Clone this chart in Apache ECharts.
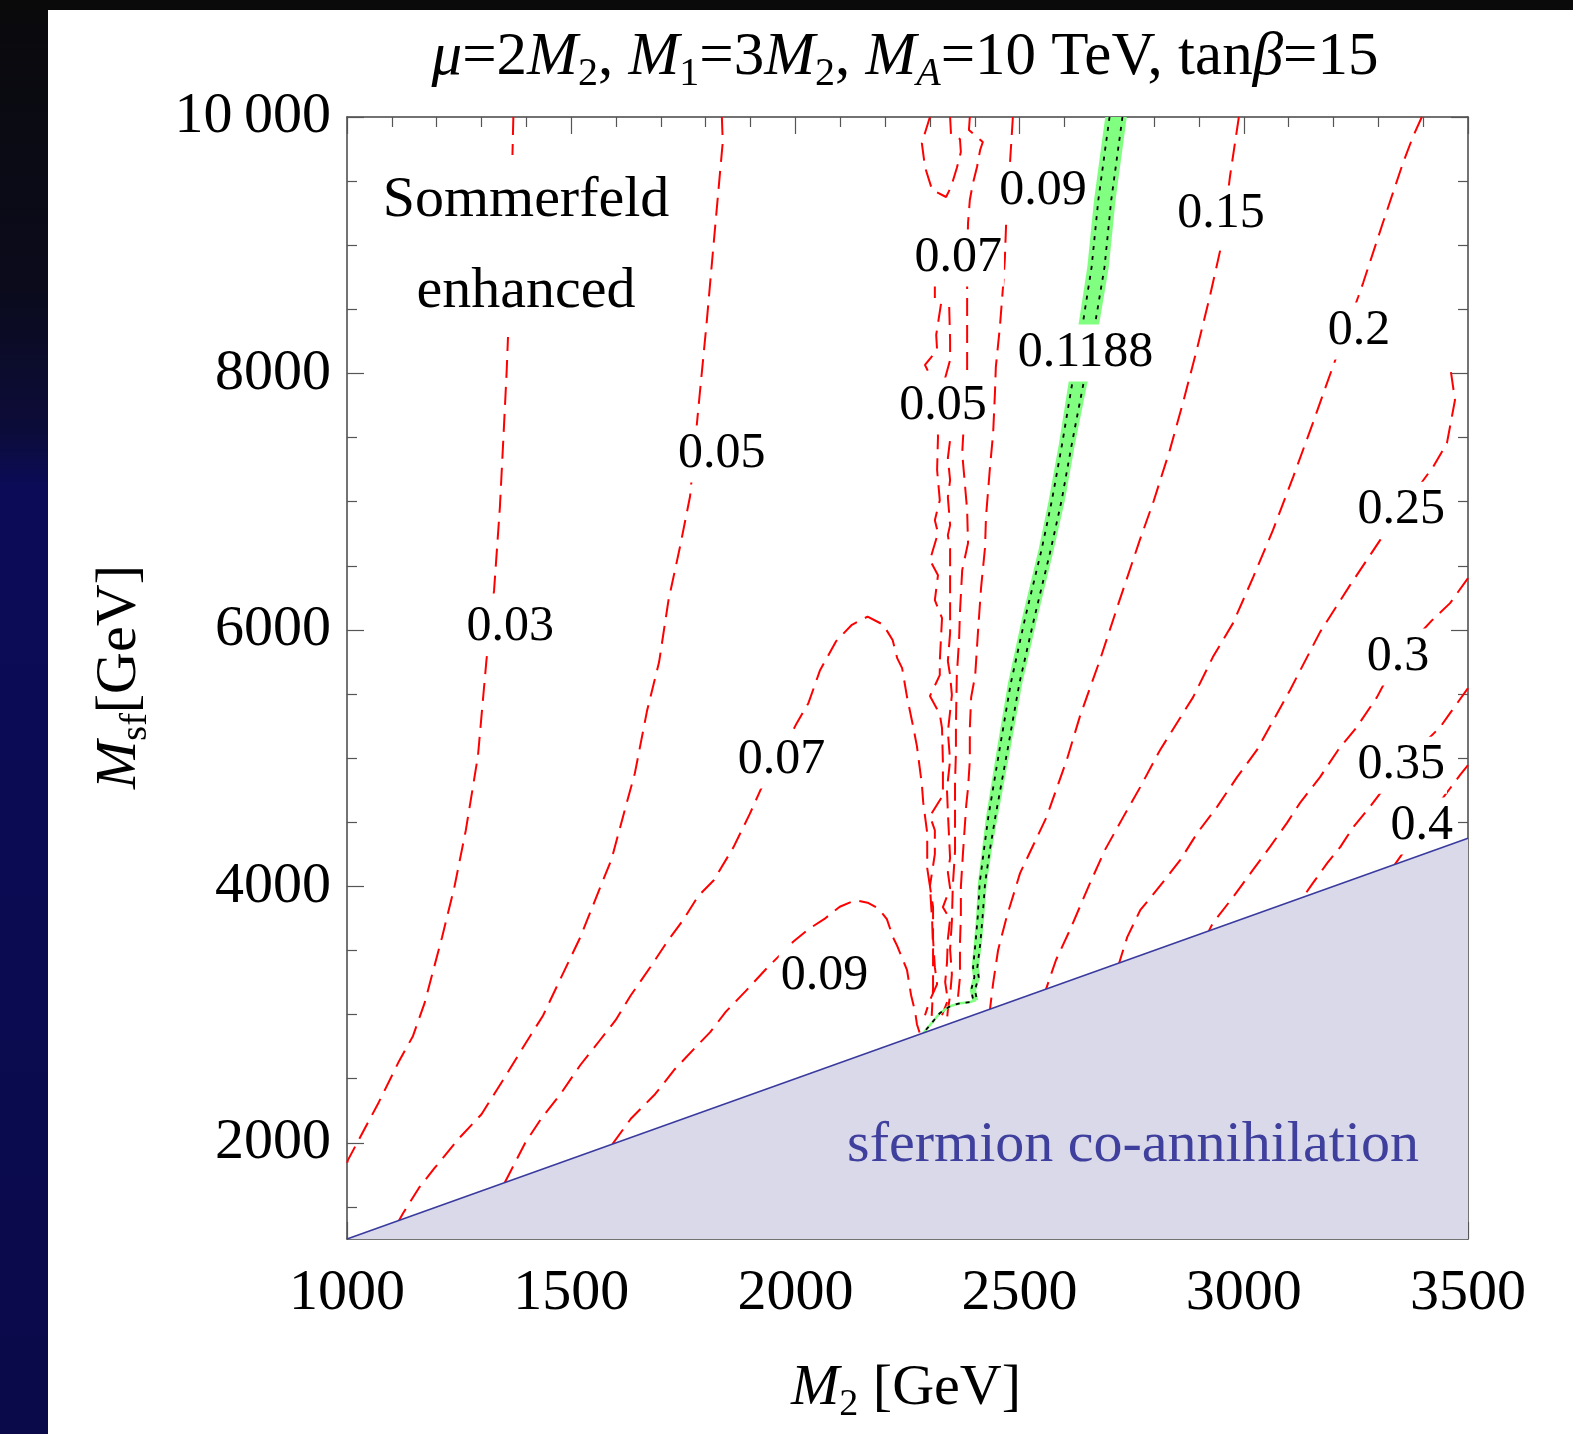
<!DOCTYPE html>
<html><head><meta charset="utf-8">
<script src="https://cdn.jsdelivr.net/npm/echarts@6/dist/echarts.min.js"></script>
<style>html,body{margin:0;padding:0;background:#fff}#c{width:1573px;height:1434px}</style>
</head><body><div id="c"></div>
<script>
// ---------- axis ticks ----------
const xMajorTicks = [1000, 1500, 2000, 2500, 3000, 3500];
const yMajorTicks = [2000, 4000, 6000, 8000, 10000];
const yMinorTicks = [1500, 2500, 3000, 3500, 4500, 5000, 5500, 6500, 7000, 7500, 8500, 9000, 9500];

// ---------- excluded region (sfermion co-annihilation) ----------
const boundary = [[1000, 1250], [3500, 4375]];

// ---------- Omega h^2 contours (red dashed) ----------
const c003 = [[1371,10000],[1360,8370],[1356,8011],[1349,7512],[1341,6958],[1328,6310],[1311,5764],[1292,5016],[1265,4438],[1239,3986],[1212,3604],[1173,3089],[1147,2832],[1116,2637],[1071,2317],[1002,1865],[1000,1840]];
const c005 = [[1836,10000],[1838,9805],[1816,8947],[1802,8393],[1783,7707],[1765,7040],[1743,6654],[1717,6232],[1696,5749],[1669,5367],[1642,4883],[1617,4563],[1590,4212],[1564,3986],[1520,3601],[1476,3279],[1437,2991],[1397,2769],[1352,2512],[1300,2223],[1248,2028],[1195,1802],[1160,1646],[1125,1451],[1116,1395]];
const c007Lobe = [[1352,1690],[1397,1997],[1433,2188],[1476,2379],[1520,2605],[1564,2800],[1599,2956],[1633,3151],[1678,3378],[1714,3568],[1748,3729],[1783,3924],[1818,4048],[1862,4306],[1898,4563],[1923,4758],[1963,5000],[2003,5273],[2029,5429],[2055,5686],[2091,5913],[2126,6040],[2161,6104],[2196,6040],[2217,5920],[2227,5780],[2238,5702],[2249,5476],[2262,5257],[2271,5094],[2282,4797],[2285,4657],[2294,4415],[2294,4142],[2300,4002],[2305,3729],[2307,3510],[2307,3206],[2304,2990]];
const c009Lobe = [[1592,1990],[1633,2188],[1687,2379],[1731,2574],[1774,2733],[1810,2863],[1845,3023],[1889,3183],[1932,3346],[1995,3568],[2029,3666],[2064,3744],[2099,3841],[2134,3892],[2161,3873],[2186,3825],[2204,3744],[2218,3601],[2227,3536],[2249,3346],[2258,3151],[2267,3023],[2271,2925],[2278,2848]];
const c005Top = [[2300,10000],[2282,9797],[2289,9610],[2305,9431],[2336,9376],[2347,9454],[2360,9602],[2369,9727],[2367,9828],[2347,9867],[2345,10000]];
const c005JagA = [[2311,8729],[2311,8588],[2325,8549],[2314,8300],[2316,8183],[2289,8066],[2300,7988],[2314,7910],[2318,7504],[2316,7247],[2322,7012],[2311,6856],[2318,6755],[2300,6544],[2318,6427],[2311,6232],[2327,6092],[2322,5757],[2322,5647],[2300,5484],[2322,5343],[2327,5234],[2329,4961],[2329,4711],[2300,4548],[2311,4438],[2311,4251],[2300,4002],[2307,3838],[2307,3729],[2307,3588],[2311,3370],[2316,3237],[2300,3112],[2289,2995]];
const c005JagB = [[2343,8518],[2345,8261],[2345,8105],[2334,7964],[2345,7481],[2340,7340],[2345,7169],[2340,7036],[2345,6817],[2340,6739],[2345,6630],[2345,6466],[2345,6287],[2345,6123],[2345,5975],[2340,5757],[2345,5647],[2349,5492],[2340,5203],[2345,4984],[2338,4758],[2340,4579],[2345,4220],[2340,4111],[2345,3986],[2329,3838],[2345,3744],[2340,3588],[2338,3401],[2334,3253],[2340,3112],[2327,2995]];
const c007Right = [[2389,10000],[2387,9899],[2418,9805],[2412,9743],[2405,9610],[2396,9485],[2389,9353],[2385,9173],[2383,8885],[2383,8627],[2383,8315],[2383,8003],[2378,7754],[2374,7504],[2372,7379],[2383,6934],[2385,6677],[2372,6466],[2367,6139],[2365,5920],[2360,5647],[2358,5257],[2358,5039],[2356,4821],[2356,4548],[2356,4275],[2351,4002],[2349,3729],[2345,3510],[2349,3315],[2345,3151],[2340,3034],[2338,2960]];
const c009Right = [[2485,10000],[2479,9665],[2470,9173],[2467,8885],[2463,8674],[2456,8362],[2447,8050],[2445,7847],[2441,7535],[2434,7270],[2425,6880],[2423,6646],[2414,6326],[2407,5975],[2401,5647],[2392,5476],[2389,5234],[2389,4984],[2385,4766],[2381,4633],[2374,4275],[2369,3994],[2369,3760],[2367,3557],[2367,3292],[2363,3151],[2363,3073]];
const c015 = [[2989,10000],[2969,9532],[2951,9017],[2924,8596],[2895,8183],[2866,7793],[2835,7402],[2799,7005],[2768,6700],[2723,6232],[2679,5764],[2634,5320],[2605,4984],[2560,4540],[2501,4103],[2471,3760],[2452,3502],[2441,3245],[2434,3042]];
const c020 = [[3397,10000],[3377,9844],[3355,9641],[3310,9173],[3266,8705],[3255,8596],[3196,8027],[3154,7613],[3110,7192],[3065,6778],[3021,6412],[2976,6053],[2931,5788],[2887,5476],[2813,5062],[2769,4774],[2731,4540],[2690,4282],[2657,4025],[2612,3658],[2581,3424],[2559,3199]];
const c025 = [[3462,8010],[3471,7793],[3453,7457],[3422,7270],[3351,6934],[3304,6700],[3237,6349],[3170,5983],[3103,5530],[3029,5062],[2985,4852],[2940,4618],[2896,4415],[2858,4204],[2818,4025],[2769,3814],[2740,3604],[2722,3403]];
const c030 = [[3500,6404],[3460,6209],[3420,6076],[3344,5788],[3297,5476],[3252,5242],[3210,5062],[3170,4852],[3125,4649],[3096,4493],[3058,4306],[3020,4127],[2976,3916],[2931,3713],[2922,3653]];
const c035 = [[3500,5546],[3460,5351],[3438,5242],[3351,4945],[3281,4618],[3244,4462],[3215,4306],[3186,4181],[3154,4025],[3132,3915]];
const c040 = [[3500,4945],[3482,4867],[3397,4470],[3337,4171]];

// ---------- Omega h^2 = 0.1188 band (green) ----------
const greenY     = [10000,9353,8830,8417,7925,7457,7012,6622,6100,5585,5062,4540,4282,4025,3760,3557,3370,3292,3190,3112];
const greenLeft  = [2691,2666,2651,2633,2609,2588,2565,2542,2506,2474,2449,2425,2416,2407,2403,2398,2393,2396,2389,2394];
const greenRight = [2739,2714,2699,2679,2651,2624,2601,2576,2540,2506,2479,2451,2438,2427,2421,2416,2409,2412,2403,2408];
const greenTail  = [[2401,3112],[2389,3097],[2367,3089],[2345,3066],[2322,3011],[2285,2855]];

// ---------- contour labels ----------
const labelPos  = [[1364,6022],[1836,7371],[1969,4985],[2065,3300],[2329,7746],[2363,8900],[2552,9423],[2647,8159],[2949,9243],[3257,8331],[3351,6934],[3344,5788],[3351,4945],[3397,4470]];
const labelText = ['0.03','0.05','0.07','0.09','0.05','0.07','0.09','0.1188','0.15','0.2','0.25','0.3','0.35','0.4'];

const SERIF = '"Liberation Serif", "Times New Roman", serif';
const chart = echarts.init(document.getElementById('c'));

const redContours = [c003, c005, c007Lobe, c009Lobe, c005Top, c005JagA, c005JagB, c007Right, c009Right, c015, c020, c025, c030, c035, c040];
function redSeries(d) {
  return {type: 'line', data: d, symbol: 'none', silent: true, z: 3,
    lineStyle: {color: '#ff0000', width: 2, type: [18, 9]}};
}
const greenCenter = greenY.map((y, i) => [(greenLeft[i] + greenRight[i]) / 2, y]);
const dotA = greenY.map((y, i) => [(greenLeft[i] + greenRight[i]) / 2 - 0.6 * (greenRight[i] - greenLeft[i]) / 2, y]).concat(greenTail.slice(1));
const dotB = greenY.map((y, i) => [(greenLeft[i] + greenRight[i]) / 2 + 0.6 * (greenRight[i] - greenLeft[i]) / 2, y]);

const axisLineStyle = {color: '#444', width: 1.5};
const tickStyle = {color: '#555', width: 1.2};
function yAx(pos, major, label) {
  return {type: 'value', min: 1250, max: 10000, position: pos,
    axisLine: {show: major, lineStyle: axisLineStyle},
    axisTick: {show: true, inside: true, length: major ? 17 : 10, customValues: major ? yMajorTicks : yMinorTicks, lineStyle: tickStyle},
    axisLabel: label ? {show: true, customValues: yMajorTicks, margin: 16, fontSize: 58, fontFamily: SERIF, color: '#000',
      padding: [6, 0, 0, 0],
      formatter: v => v === 10000 ? '10\u2009000' : String(v)} : {show: false},
    splitLine: {show: false}};
}
function xAx(pos, label) {
  return {type: 'value', min: 1000, max: 3500, interval: 500, position: pos,
    axisLine: {show: true, lineStyle: axisLineStyle},
    axisTick: {show: true, inside: true, length: 17, lineStyle: tickStyle},
    minorTick: {show: true, splitNumber: 5, length: 10, lineStyle: tickStyle},
    axisLabel: label ? {show: true, margin: 26, fontSize: 58, fontFamily: SERIF, color: '#000',
      formatter: v => String(v)} : {show: false},
    splitLine: {show: false}, minorSplitLine: {show: false}};
}

const series = redContours.map(redSeries);
series.push({
  type: 'custom', coordinateSystem: 'cartesian2d', silent: true, z: 4,
  data: [[greenCenter[0][0], greenCenter[0][1]]],
  renderItem: function (params, api) {
    const pts = [];
    for (let i = 0; i < greenY.length; i++) pts.push(api.coord([greenLeft[i], greenY[i]]));
    for (let i = greenY.length - 1; i >= 0; i--) pts.push(api.coord([greenRight[i], greenY[i]]));
    return {type: 'polygon', shape: {points: pts}, style: {fill: '#80ff80'}};
  }
});
series.push({type: 'line', data: greenCenter.concat(greenTail.slice(1)), symbol: 'none', silent: true, z: 4,
  lineStyle: {color: '#80ff80', width: 2.5}});
series.push({type: 'line', data: dotA, symbol: 'none', silent: true, z: 5, lineStyle: {color: '#000', width: 1.8, type: [4, 6]}});
series.push({type: 'line', data: dotB, symbol: 'none', silent: true, z: 5, lineStyle: {color: '#000', width: 1.8, type: [4, 6]}});
// contour labels (white boxes that break the lines, as in the original)
series.push({
  type: 'custom', coordinateSystem: 'cartesian2d', silent: true, z: 10, data: labelPos,
  renderItem: function (params, api) {
    const p = api.coord([api.value(0), api.value(1)]);
    return {type: 'text', x: p[0], y: p[1], z2: 10, style: {
      text: labelText[params.dataIndex], font: '50px ' + SERIF, fill: '#000',
      align: 'center', verticalAlign: 'middle', lineHeight: 42, padding: [9, 2, 6, 2], backgroundColor: '#fff'}};
  }
});
series.push({type: 'line', data: boundary, symbol: 'none', silent: true, z: 11,
  lineStyle: {color: '#3a3a9e', width: 1.6}, areaStyle: {color: '#d9d9ea', opacity: 1}});

const richTitle = {
  i: {fontStyle: 'italic', fontSize: 61, fontFamily: SERIF, lineHeight: 72, fill: '#000'},
  s: {fontSize: 40, fontFamily: SERIF, lineHeight: 40, verticalAlign: 'bottom', fill: '#000'},
  si: {fontSize: 40, fontStyle: 'italic', fontFamily: SERIF, lineHeight: 40, verticalAlign: 'bottom', fill: '#000'}
};
const rich58 = {
  i: {fontStyle: 'italic', fontSize: 58, fontFamily: SERIF, lineHeight: 70, fill: '#000'},
  s: {fontSize: 38, fontFamily: SERIF, lineHeight: 38, verticalAlign: 'bottom', fill: '#000'}
};

const option = {
  animation: false,
  backgroundColor: '#ffffff',
  grid: {left: 347, top: 117, width: 1121, height: 1122, containLabel: false},
  xAxis: [xAx('bottom', true), xAx('top', false)],
  yAxis: [yAx('left', true, true), yAx('left', false, false), yAx('right', true, false), yAx('right', false, false)],
  series: series,
  graphic: [
    {type: 'rect', x: 0, y: 0, z: 0, shape: {width: 48, height: 1434},
      style: {fill: new echarts.graphic.LinearGradient(0, 0, 0, 1, [
        {offset: 0, color: '#0a0a0c'}, {offset: 0.2, color: '#0b0b1c'}, {offset: 0.3, color: '#0c0c3a'},
        {offset: 0.34, color: '#0b0b58'}, {offset: 1, color: '#0a0a4a'}])}},
    {type: 'rect', x: 0, y: 0, z: 0, shape: {width: 1573, height: 10}, style: {fill: '#0a0a0a'}},
    {type: 'text', x: 905, y: 58, z: 100, style: {
      text: '{i|μ}=2{i|M}{s|2}, {i|M}{s|1}=3{i|M}{s|2}, {i|M}{si|A}=10 TeV, tan{i|β}=15',
      font: '61px ' + SERIF, lineHeight: 72, fill: '#000', align: 'center', verticalAlign: 'middle', rich: richTitle}},
    {type: 'text', x: 906, y: 1389, z: 100, style: {
      text: '{i|M}{s|2} [GeV]', font: '58px ' + SERIF, lineHeight: 70, fill: '#000', align: 'center', verticalAlign: 'middle', rich: rich58}},
    {type: 'text', x: 120, y: 677, z: 100, rotation: Math.PI / 2, style: {
      text: '{i|M}{s|sf}[GeV]', font: '58px ' + SERIF, lineHeight: 70, fill: '#000', align: 'center', verticalAlign: 'middle', rich: rich58}},
    {type: 'text', x: 526, y: 246, z: 100, style: {
      text: 'Sommerfeld\nenhanced', font: '58px ' + SERIF, lineHeight: 91, fill: '#000', align: 'center', verticalAlign: 'middle', backgroundColor: '#fff'}},
    {type: 'text', x: 1133, y: 1146, z: 100, style: {
      text: 'sfermion co-annihilation', font: '58px ' + SERIF, fill: '#3f3f9d', align: 'center', verticalAlign: 'middle'}}
  ]
};
chart.setOption(option);
</script>
</body></html>
